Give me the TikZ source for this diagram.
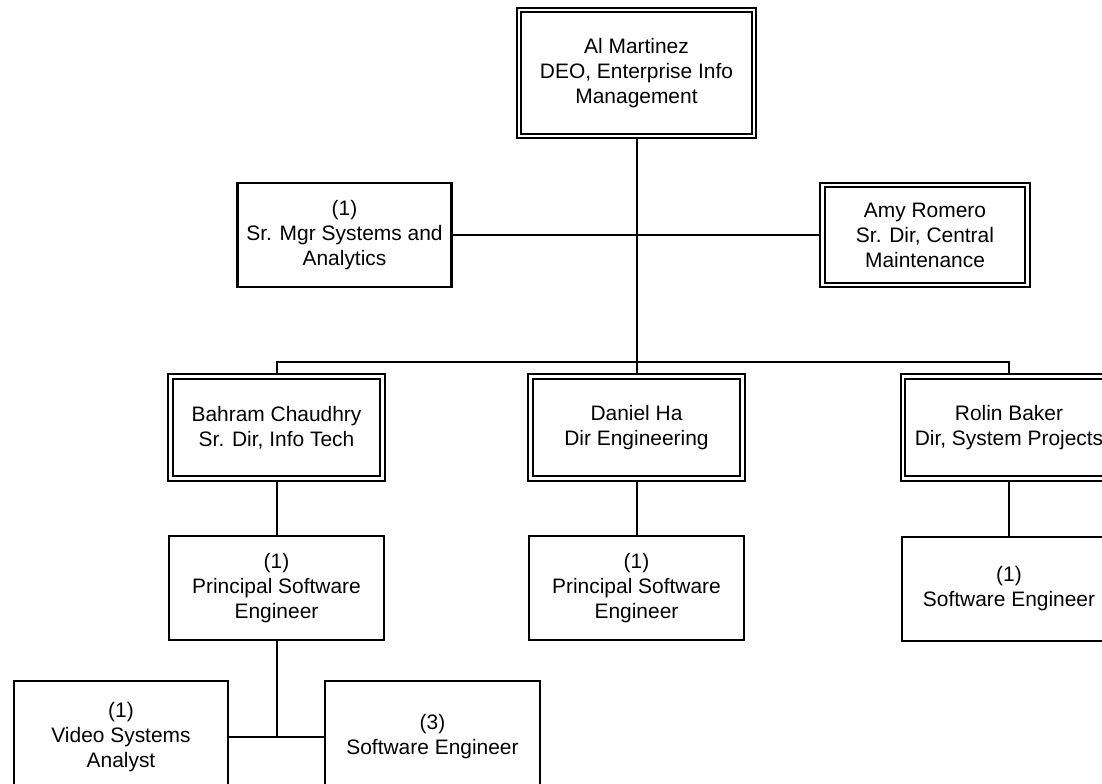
\documentclass[tikz,border=0pt]{standalone}
\usepackage{fontspec}
\setmainfont{Liberation Sans}
\usetikzlibrary{backgrounds}
\definecolor{orgink}{HTML}{000000}
\tikzset{
  org line/.style={draw=orgink, line width=1.5pt},
  org post/.style={draw=orgink, line width=1.6pt, align=center, inner sep=2pt,
    font=\fontsize{15.7}{18.8}\selectfont, minimum width=161pt,
    minimum height=78pt},
  org head/.style={org post, double=white, double distance=2.2pt,
    line width=1.5pt, minimum width=159pt, minimum height=76.5pt},
}

\begin{document}
\begin{tikzpicture}[x=0.75pt, y=-0.75pt]
  \useasboundingbox (0,0) rectangle (1102,783);
  \clip (0,0) rectangle (1102,783);

  % directors
  \node[org head, minimum width=176.25pt, minimum height=94.5pt] (deo)
    at (636.5,73) {Al Martinez\\DEO, Enterprise Info\\Management};
  \node[org post, minimum width=160.5pt] (srmgr) at (344.5,235)
    {(1)\\Sr. Mgr Systems and\\Analytics};
  \node[org head, minimum width=153.75pt, minimum height=75pt] (amy)
    at (925,235) {Amy Romero\\Sr. Dir, Central\\Maintenance};
  \node[org head] (bahram) at (276.5,427.5) {Bahram Chaudhry\\Sr. Dir, Info Tech};
  \node[org head] (daniel) at (636.5,427.5) {Daniel Ha\\Dir Engineering};
  \node[org head] (rolin) at (1009,427.5) {Rolin Baker\\Dir, System Projects};

  % staff
  \node[org post] (pse1) at (276.5,588) {(1)\\Principal Software\\Engineer};
  \node[org post] (pse2) at (636.5,588) {(1)\\Principal Software\\Engineer};
  \node[org post] (swe1) at (1009,589) {(1)\\Software Engineer};
  \node[org post, minimum height=84pt] (vsa) at (121,737)
    {(1)\\Video Systems\\Analyst};
  \node[org post, minimum height=84pt] (swe3) at (432.5,737)
    {(3)\\Software Engineer};

  \coordinate (bus) at (636.5,362);

  \begin{scope}[on background layer]
    \draw[org line] (deo) -- (daniel);
    \draw[org line] (srmgr) -- (amy);
    \draw[org line] (bahram.north) |- (bus) -| (rolin.north);
    \draw[org line] (bahram) -- (pse1);
    \draw[org line] (daniel) -- (pse2);
    \draw[org line] (rolin) -- (swe1);
    \draw[org line] (vsa) -- (swe3);
    \draw[org line] (pse1.south) -- (pse1.south |- vsa.east);
  \end{scope}
\end{tikzpicture}
\end{document}
